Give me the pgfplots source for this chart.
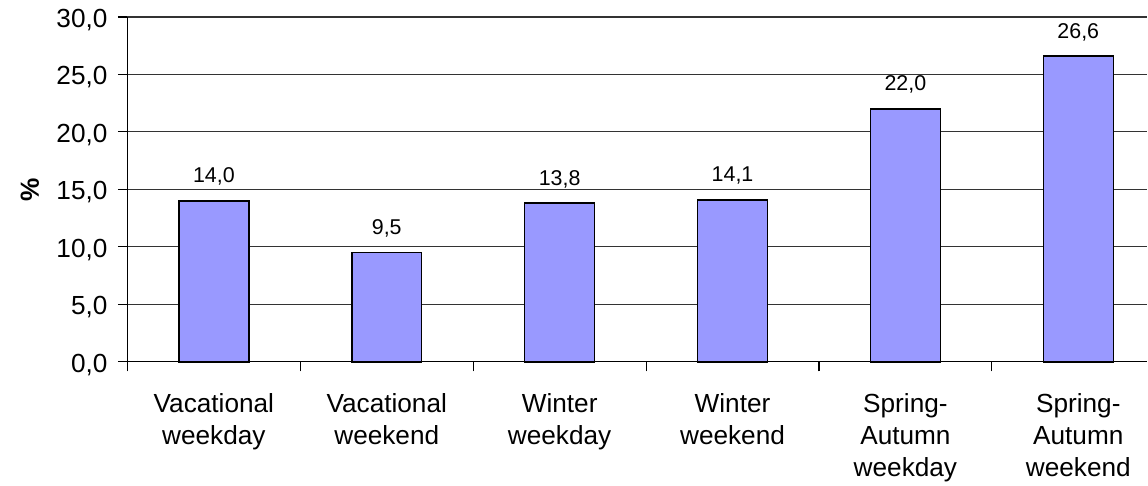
\documentclass[border=0pt]{standalone}
\usepackage{pgfplots}
\pgfplotsset{compat=1.18}
\usepackage{fontspec}
\setmainfont{Liberation Sans}
\definecolor{barblue}{HTML}{9999FF}
\begin{document}
\begin{tikzpicture}
\begin{axis}[
  name=ax, at={(0,0)}, anchor=south west,
  scale only axis, width=1020.5bp, height=345bp,
  xmin=-0.5, xmax=5.4, ymin=0, ymax=30,
  axis x line=bottom, axis y line=left,
  axis line style={-, black, line width=1.1bp},
  ytick={0,5,...,30},
  ymajorgrids, major grid style={black!80, line width=1.1bp},
  tick align=outside, major tick length=9.5bp,
  xtick={-0.5,0.5,1.5,2.5,3.5,4.5},
  xticklabels={},
  extra x ticks={0,1,2,3,4,5},
  extra x tick labels={Vacational\\weekday, Vacational\\weekend, Winter\\weekday, Winter\\weekend, Spring-\\Autumn\\weekday, Spring-\\Autumn\\weekend},
  extra x tick style={major tick length=0pt, xticklabel style={font=\fontsize{26.3}{32}\selectfont, align=center, anchor=north, yshift=-28bp}},
  tick style={black, line width=1.1bp},
  /pgf/number format/assume math mode=true,
  yticklabel={\pgfmathprintnumber[fixed, fixed zerofill, precision=1, use comma]{\tick}},
  yticklabel style={font=\fontsize{26.3}{30}\selectfont, anchor=east, xshift=-7bp, yshift=-3bp},
  every axis y label/.style={at={(axis description cs:0,0.5)}, anchor=center, rotate=90, yshift=97.5bp, font=\fontsize{26.3}{30}\selectfont\bfseries},
  ylabel={\%},
  nodes near coords={\pgfmathprintnumber[fixed, fixed zerofill, precision=1, use comma, assume math mode=true]{\pgfplotspointmeta}},
  every node near coord/.append style={font=\fontsize{21.5}{26}\selectfont, anchor=base, yshift=18bp, black},
  clip=false,
]
\addplot[ybar, bar width=70bp, fill=barblue, draw=black, line width=1.5bp] coordinates {
  (0,14.0) (1,9.5) (2,13.8) (3,14.1) (4,22.0) (5,26.6)
};
\end{axis}
\path[use as bounding box] (-127.5bp,-124bp) rectangle (1020.5bp,362bp);
\end{tikzpicture}
\end{document}
